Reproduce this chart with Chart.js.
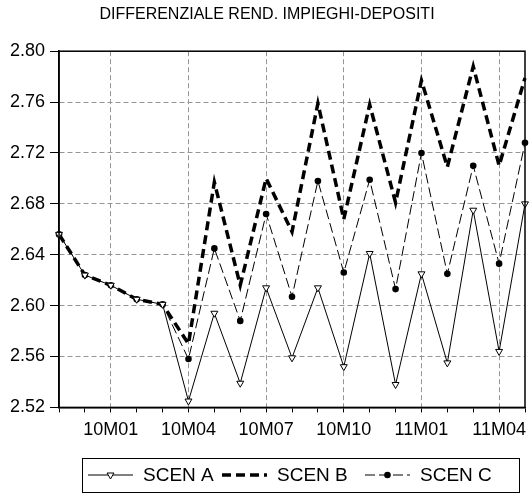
<!DOCTYPE html>
<html><head><meta charset="utf-8">
<script src="https://cdn.jsdelivr.net/npm/chart.js@4/dist/chart.umd.min.js"></script>
<style>html,body{margin:0;padding:0;background:#fff}#wrap{width:532px;height:493px}</style>
</head><body><div id="wrap"><canvas id="c" width="532" height="493"></canvas></div>
<script>
const categories = ['09M11','09M12','10M01','10M02','10M03','10M04','10M05','10M06','10M07','10M08','10M09','10M10','10M11','10M12','11M01','11M02','11M03','11M04','11M05'];
const tickLabels = ['10M01','10M04','10M07','10M10','11M01','11M04'];
const seriesNames = ['SCEN A','SCEN B','SCEN C'];
const scenA = [2.656,2.624,2.616,2.605,2.601,2.525,2.594,2.539,2.614,2.559,2.614,2.552,2.641,2.538,2.625,2.555,2.675,2.564,2.680];
const scenB = [2.656,2.624,2.616,2.605,2.601,2.570,2.697,2.616,2.700,2.658,2.759,2.668,2.758,2.681,2.777,2.709,2.788,2.710,2.779];
const scenC = [2.656,2.624,2.616,2.605,2.601,2.558,2.645,2.588,2.672,2.607,2.698,2.626,2.699,2.613,2.720,2.625,2.710,2.633,2.728];
const yMin = 2.52, yMax = 2.80, yStep = 0.04;
const titleText = 'DIFFERENZIALE REND. IMPIEGHI-DEPOSITI';

const FONT = "'Liberation Sans', Arial, sans-serif";
const GRID = '#959595';

const framePlugin = {
  id: 'frame',
  afterDatasetsDraw(chart) {
    const {ctx, chartArea: a} = chart;
    ctx.save();
    ctx.strokeStyle = '#000';
    ctx.lineWidth = 1.5;
    ctx.strokeRect(a.left, a.top, a.right - a.left, a.bottom - a.top);
    ctx.restore();
  }
};

const legendPlugin = {
  id: 'boxLegend',
  afterDraw(chart) {
    const ctx = chart.ctx;
    const box = {x: 82, y: 458, w: 437, h: 34};
    const cy = box.y + box.h / 2;
    ctx.save();
    ctx.strokeStyle = '#000';
    ctx.lineWidth = 1;
    ctx.strokeRect(box.x + 0.5, box.y + 0.5, box.w, box.h);
    const starts = [88, 222, 365];
    chart.data.datasets.forEach((ds, i) => {
      const x0 = starts[i], len = 45;
      ctx.save();
      ctx.strokeStyle = ds.borderColor;
      ctx.lineWidth = ds.borderWidth;
      ctx.setLineDash(ds.borderDash || []);
      ctx.beginPath();
      ctx.moveTo(x0, cy);
      ctx.lineTo(x0 + len, cy);
      ctx.stroke();
      ctx.restore();
      if (ds.pointRadius > 0) {
        ctx.save();
        ctx.fillStyle = ds.pointBackgroundColor;
        ctx.strokeStyle = ds.pointBorderColor;
        Chart.helpers.drawPoint(ctx, {pointStyle: ds.pointStyle, radius: ds.pointRadius, rotation: ds.pointRotation || 0, borderWidth: ds.pointBorderWidth}, x0 + len / 2, cy);
        ctx.restore();
      }
      ctx.fillStyle = '#000';
      ctx.font = '19px ' + FONT;
      ctx.textBaseline = 'middle';
      ctx.textAlign = 'left';
      ctx.fillText(ds.label, x0 + len + 10, cy + 1);
    });
    ctx.restore();
  }
};

new Chart(document.getElementById('c'), {
  type: 'line',
  data: {
    labels: categories,
    datasets: [
      {label: seriesNames[0], data: scenA, borderColor: '#000', borderWidth: 1, tension: 0,
       pointStyle: 'triangle', pointRotation: 180, pointRadius: 4, pointBackgroundColor: '#fff', pointBorderColor: '#000', pointBorderWidth: 1},
      {label: seriesNames[1], data: scenB, borderColor: '#000', borderWidth: 3.5, borderDash: [9, 5], tension: 0, pointRadius: 0},
      {label: seriesNames[2], data: scenC, borderColor: '#000', borderWidth: 1, borderDash: [10, 4], tension: 0,
       pointStyle: 'circle', pointRadius: 3.3, pointBackgroundColor: '#000', pointBorderColor: '#000', pointBorderWidth: 0}
    ]
  },
  options: {
    responsive: false,
    animation: false,
    devicePixelRatio: 1,
    layout: {padding: {left: 5, right: 3, top: 0, bottom: 45}},
    plugins: {
      legend: {display: false},
      tooltip: {enabled: false},
      title: {display: true, text: titleText, color: '#000', font: {family: FONT, size: 16, weight: 'normal'}, padding: {top: 5, bottom: 27}}
    },
    scales: {
      x: {
        type: 'category',
        offset: false,
        border: {display: true, color: '#000', width: 1.5, dash: [5, 3]},
        grid: {
          color: ctx => (ctx.tick && tickLabels.includes(categories[ctx.index])) ? GRID : 'rgba(0,0,0,0)',
          lineWidth: 1, tickLength: 5, tickColor: '#000', tickWidth: 1, tickBorderDash: []
        },
        ticks: {
          autoSkip: false, maxRotation: 0, minRotation: 0, padding: 7, color: '#000',
          font: {family: FONT, size: 18},
          callback: function(v, i) { const l = categories[i]; return tickLabels.includes(l) ? l : ''; }
        }
      },
      y: {
        min: yMin, max: yMax,
        border: {display: true, color: '#000', width: 1.5, dash: [5, 3]},
        grid: {color: GRID, lineWidth: 1, tickLength: 9, tickColor: '#000', tickWidth: 1, tickBorderDash: []},
        ticks: {stepSize: yStep, padding: 5, color: '#000', font: {family: FONT, size: 18},
          callback: v => Number(v).toFixed(2)}
      }
    }
  },
  plugins: [framePlugin, legendPlugin]
});
</script></body></html>
